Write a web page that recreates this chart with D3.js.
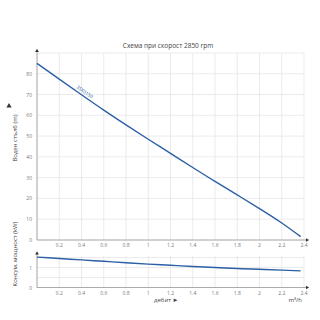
<!DOCTYPE html>
<html>
<head>
<meta charset="utf-8">
<script src="https://cdn.jsdelivr.net/npm/d3@7"></script>
<style>
  body { margin: 0; background: #fff; }
  svg { font-family: 'Open Sans', sans-serif; }
</style>
</head>
<body>
<div id="chart"></div>
<script>
// flow, m3/h
const flow = [0, 0.2, 0.4, 0.6, 0.8, 1.0, 1.2, 1.4, 1.6, 1.8, 2.0, 2.2, 2.37];
// head, m
const head = [85, 77.4, 69.9, 62.5, 55.4, 48.5, 41.7, 34.9, 28.2, 21.7, 15.1, 8.2, 1.6];
// power, kW
const power = [1.52, 1.45, 1.38, 1.31, 1.24, 1.17, 1.11, 1.05, 1.0, 0.95, 0.91, 0.87, 0.83];
const xTicks = [0.2, 0.4, 0.6, 0.8, 1, 1.2, 1.4, 1.6, 1.8, 2, 2.2, 2.4];
const headTicks = [0, 10, 20, 30, 40, 50, 60, 70, 80];
const powerTicks = [0, 1];
const curveName = '3SX0150';

const width = 320, height = 320;
const svg = d3.select('#chart').append('svg')
    .attr('width', width)
    .attr('height', height);

const blue = '#2b5fa6',
    gridColor = '#e6e6e6',
    axisColor = '#9a9a9a',
    tickColor = '#777';

let x = d3.scaleLinear().domain([0, 2.4]).range([37, 304]);
let yHead = d3.scaleLinear().domain([0, 90]).range([240, 53]);
let yPower = d3.scaleLinear().domain([0, 1.6]).range([287.5, 255.5]);

svg.append('text')
    .attr('x', 168).attr('y', 48)
    .attr('text-anchor', 'middle')
    .style('font-size', '6.5px')
    .attr('fill', '#444')
    .text('Схема при скорост 2850 rpm');

function drawPanel(y, yTicks, gridTicks, values, yTop) {
    let g = svg.append('g');
    // grid
    g.selectAll('line.vgrid')
        .data([0].concat(xTicks))
        .enter().append('line')
        .attr('x1', d => x(d)).attr('x2', d => x(d))
        .attr('y1', y(0)).attr('y2', y(yTop))
        .attr('stroke', gridColor).attr('stroke-width', 0.8);
    g.selectAll('line.hgrid')
        .data(gridTicks)
        .enter().append('line')
        .attr('x1', x(0)).attr('x2', x(2.4))
        .attr('y1', d => y(d)).attr('y2', d => y(d))
        .attr('stroke', gridColor).attr('stroke-width', 0.8);
    // axes
    g.append('line')
        .attr('x1', x(0)).attr('x2', x(2.4) + 3)
        .attr('y1', y(0)).attr('y2', y(0))
        .attr('stroke', axisColor).attr('stroke-width', 0.8);
    g.append('line')
        .attr('x1', x(0)).attr('x2', x(0))
        .attr('y1', y(0)).attr('y2', y(yTop) - 2)
        .attr('stroke', axisColor).attr('stroke-width', 0.8);
    // arrow heads
    g.append('path')
        .attr('d', d3.symbol(d3.symbolTriangle, 6)())
        .attr('transform', 'translate(' + x(0) + ',' + (y(yTop) - 2) + ')')
        .attr('fill', '#333');
    g.append('path')
        .attr('d', d3.symbol(d3.symbolTriangle, 6)())
        .attr('transform', 'translate(' + (x(2.4) + 3) + ',' + y(0) + ') rotate(90)')
        .attr('fill', '#333');
    // tick labels
    g.selectAll('text.xt')
        .data(xTicks)
        .enter().append('text')
        .attr('x', d => x(d)).attr('y', y(0) + 7)
        .attr('text-anchor', 'middle')
        .style('font-size', '5px')
        .attr('fill', tickColor)
        .text(d => d);
    g.selectAll('text.yt')
        .data(yTicks)
        .enter().append('text')
        .attr('x', x(0) - 5).attr('y', d => y(d) + 2)
        .attr('text-anchor', 'end')
        .style('font-size', '5px')
        .attr('fill', tickColor)
        .text(d => d);
    // curve
    let line = d3.line()
        .x((d, i) => x(flow[i]))
        .y(d => y(d))
        .curve(d3.curveNatural);
    g.append('path')
        .datum(values)
        .attr('d', line)
        .attr('fill', 'none')
        .attr('stroke', blue)
        .attr('stroke-width', 1.4);
}

drawPanel(yHead, headTicks, [0, 10, 20, 30, 40, 50, 60, 70, 80, 90], head, 90);
drawPanel(yPower, powerTicks, [0, 0.5, 1, 1.5], power, 1.6);

// curve name along the line
let p0 = [x(flow[1]), yHead(head[1])], p1 = [x(flow[3]), yHead(head[3])];
let angle = Math.atan2(p1[1] - p0[1], p1[0] - p0[0]) * 180 / Math.PI;
svg.append('text')
    .attr('transform', 'translate(' + x(0.42) + ',' + (yHead(69.2) - 3) + ') rotate(' + angle + ')')
    .attr('text-anchor', 'middle')
    .style('font-size', '4.8px')
    .attr('fill', blue)
    .text(curveName);

// axis titles
svg.append('text')
    .attr('transform', 'translate(17,138) rotate(-90)')
    .attr('text-anchor', 'middle')
    .style('font-size', '6px')
    .attr('fill', '#444')
    .text('Воден стълб (m)');
svg.append('path')
    .attr('d', d3.symbol(d3.symbolTriangle, 12)())
    .attr('transform', 'translate(9,106)')
    .attr('fill', '#333');
svg.append('text')
    .attr('transform', 'translate(17,254) rotate(-90)')
    .attr('text-anchor', 'middle')
    .style('font-size', '6px')
    .attr('fill', '#444')
    .text('Консум. мощност (kW)');
svg.append('text')
    .attr('x', 154).attr('y', 302)
    .style('font-size', '6px')
    .attr('fill', '#444')
    .text('дебит ►');
svg.append('text')
    .attr('x', 302).attr('y', 302)
    .attr('text-anchor', 'end')
    .style('font-size', '6px')
    .attr('fill', '#444')
    .text('m³/h');
</script>
</body>
</html>
